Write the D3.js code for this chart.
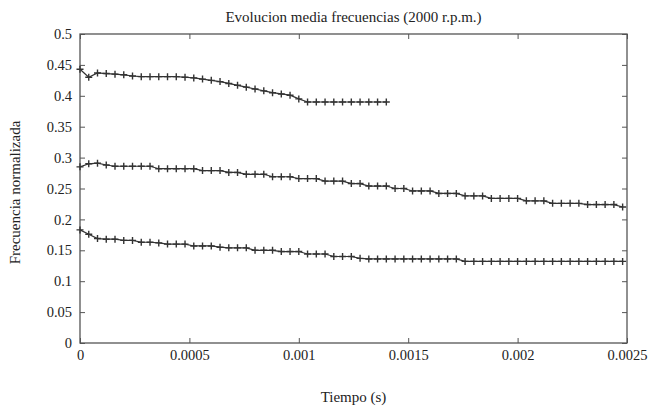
<!DOCTYPE html>
<html>
<head>
<meta charset="utf-8">
<script src="https://cdn.jsdelivr.net/npm/d3@7"></script>
<style>
  body { margin: 0; background: #fff; }
  text { font-family: "Liberation Serif", "DejaVu Serif", serif; fill: #222; }
</style>
</head>
<body>
<div id="chart"></div>
<script>
// sampling step of the recorded time grid (s)
var dt = 0.00004

var serieAlta = [0.443, 0.430, 0.437, 0.436, 0.435, 0.434, 0.432, 0.431, 0.431, 0.431,
  0.431, 0.431, 0.430, 0.429, 0.427, 0.425, 0.423, 0.420, 0.417, 0.414,
  0.411, 0.408, 0.405, 0.403, 0.401, 0.395, 0.390, 0.390, 0.390, 0.390,
  0.390, 0.390, 0.390, 0.390, 0.390, 0.390]

var serieMedia = [0.285, 0.290, 0.291, 0.288, 0.286, 0.286, 0.286, 0.286, 0.286, 0.282,
  0.282, 0.282, 0.282, 0.282, 0.279, 0.279, 0.279, 0.276, 0.276, 0.273,
  0.273, 0.273, 0.269, 0.269, 0.269, 0.266, 0.266, 0.266, 0.262, 0.262,
  0.262, 0.258, 0.258, 0.254, 0.254, 0.254, 0.250, 0.250, 0.246, 0.246,
  0.246, 0.242, 0.242, 0.242, 0.238, 0.238, 0.238, 0.234, 0.234, 0.234,
  0.234, 0.230, 0.230, 0.230, 0.226, 0.226, 0.226, 0.226, 0.224, 0.224,
  0.224, 0.224, 0.220]

var serieBaja = [0.183, 0.176, 0.169, 0.168, 0.168, 0.166, 0.166, 0.163, 0.163, 0.162,
  0.160, 0.160, 0.160, 0.157, 0.157, 0.157, 0.155, 0.154, 0.154, 0.154,
  0.150, 0.150, 0.150, 0.148, 0.148, 0.148, 0.144, 0.144, 0.144, 0.140,
  0.140, 0.140, 0.137, 0.136, 0.136, 0.136, 0.136, 0.136, 0.136, 0.136,
  0.136, 0.136, 0.136, 0.136, 0.132, 0.132, 0.132, 0.132, 0.132, 0.132,
  0.132, 0.132, 0.132, 0.132, 0.132, 0.132, 0.132, 0.132, 0.132, 0.132,
  0.132, 0.132, 0.132]

var xTicks = [0, 0.0005, 0.001, 0.0015, 0.002, 0.0025]
var xTickLabels = ["0", "0.0005", "0.001", "0.0015", "0.002", "0.0025"]
var yTicks = [0, 0.05, 0.1, 0.15, 0.2, 0.25, 0.3, 0.35, 0.4, 0.45, 0.5]

var margin = { top: 34, left: 80, right: 21, bottom: 66 }
var width = 648 - margin.left - margin.right
var height = 409 - margin.top - margin.bottom

var svg = d3.select("#chart")
  .append("svg")
  .attr("width", 648)
  .attr("height", 409)

var g = svg.append("g")
  .attr("transform", "translate(" + margin.left + "," + margin.top + ")")

var xScale = d3.scaleLinear().domain([0, 0.0025]).range([0, width])
var yScale = d3.scaleLinear().domain([0, 0.5]).range([height, 0])

// ticks on all four sides, pointing inward (gnuplot style)
g.append("g")
  .attr("transform", "translate(0," + height + ")")
  .call(d3.axisBottom(xScale).tickValues(xTicks).tickSizeInner(-5).tickSizeOuter(0)
    .tickPadding(7).tickFormat(function(d, i) { return xTickLabels[i] }))
g.append("g")
  .call(d3.axisTop(xScale).tickValues(xTicks).tickSizeInner(-5).tickSizeOuter(0).tickFormat(""))
g.append("g")
  .call(d3.axisLeft(yScale).tickValues(yTicks).tickSizeInner(-5).tickSizeOuter(0)
    .tickPadding(8).tickFormat(function(d) { return d3.format("")(+d.toFixed(2)) }))
g.append("g")
  .attr("transform", "translate(" + width + ",0)")
  .call(d3.axisRight(yScale).tickValues(yTicks).tickSizeInner(-5).tickSizeOuter(0).tickFormat(""))

g.selectAll(".domain").remove()
g.selectAll(".tick line").attr("stroke", "#555")
g.selectAll(".tick text")
  .style("font-family", "'Liberation Serif', serif")
  .style("font-size", "14.5px")
  .attr("fill", "#222")

g.append("rect")
  .attr("width", width)
  .attr("height", height)
  .attr("fill", "none")
  .attr("stroke", "#555")
  .attr("stroke-width", 1.3)

var line = d3.line()
  .x(function(d, i) { return xScale(i * dt) })
  .y(function(d) { return yScale(d) })

;[serieAlta, serieMedia, serieBaja].forEach(function(serie) {
  g.append("path")
    .datum(serie)
    .attr("d", line)
    .attr("fill", "none")
    .attr("stroke", "#333")
    .attr("stroke-width", 1.2)

  g.selectAll(null)
    .data(serie)
    .enter().append("path")
    .attr("transform", function(d, i) {
      return "translate(" + xScale(i * dt) + "," + yScale(d) + ")"
    })
    .attr("d", "M-3.5,0H3.5M0,-3.5V3.5")
    .attr("stroke", "#333")
    .attr("stroke-width", 1.4)
})

svg.append("text")
  .text("Evolucion media frecuencias (2000 r.p.m.)")
  .attr("x", margin.left + width / 2)
  .attr("y", 22)
  .attr("text-anchor", "middle")
  .attr("font-size", "15px")

svg.append("text")
  .text("Tiempo (s)")
  .attr("x", margin.left + width / 2)
  .attr("y", 402)
  .attr("text-anchor", "middle")
  .attr("font-size", "15px")

svg.append("text")
  .text("Frecuencia normalizada")
  .attr("transform", "translate(20," + (margin.top + height / 2 + 4) + ") rotate(-90)")
  .attr("text-anchor", "middle")
  .attr("font-size", "15px")
</script>
</body>
</html>
